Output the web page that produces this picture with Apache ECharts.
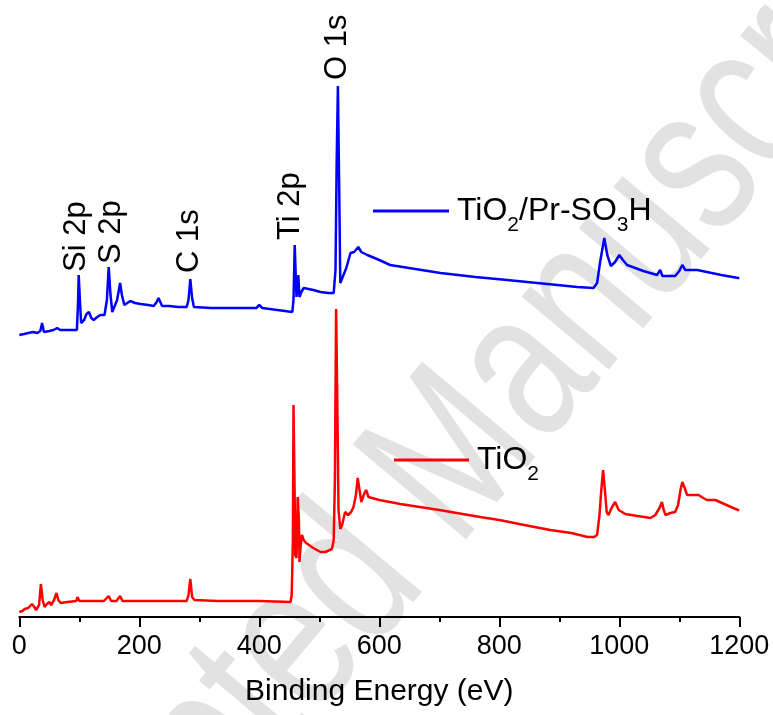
<!DOCTYPE html>
<html>
<head>
<meta charset="utf-8">
<script src="https://cdn.jsdelivr.net/npm/echarts@6/dist/echarts.min.js"></script>
<style>html,body{margin:0;padding:0;background:#fff}#c{width:773px;height:715px}</style>
</head>
<body>
<div id="c"></div>
<script>
// ---- data (binding energy in eV, intensity in arbitrary units) ----
var xTicks = [0, 200, 400, 600, 800, 1000, 1200];

var blueName = 'TiO2/Pr-SO3H';
var blueEnergy = [0,8,15,23,30,35,38,41,50,57,63,68,80,96,98,99,101,103,108,112,116,120,124,130,135,142,146,149,152,155,158,163,168,171,175,180,185,193,202,215,224,229,232,235,238,250,265,279,282,285,288,291,320,357,395,400,405,430,455,457,459,461,462,465,467,470,474,490,502,515,524,527,529,531,533,535,538,545,552,558,565,570,580,600,618,660,702,760,813,880,930,957,963,968,975,980,986,993,1000,1006,1013,1040,1063,1068,1072,1093,1100,1105,1110,1113,1130,1146,1170,1198,1200];
var blueCounts = [282,283,284,285,284,286,294,285,286,287,289,287,287,287,317,342,317,294,297,303,305,299,297,300,302,302,317,350,322,305,307,317,334,322,312,314,316,314,313,312,311,315,319,315,311,311,310,310,317,338,319,310,309,309,309,312,309,307,305,317,372,337,320,342,320,325,329,327,325,324,324,347,457,531,437,334,332,349,364,365,370,365,362,357,352,348,344,340,337,333,330,329,334,355,379,362,351,355,362,357,352,346,342,347,341,341,346,352,347,346,347,345,342,339,339];

var redName = 'TiO2';
var redEnergy = [0,5,9,15,21,25,28,33,36,39,42,46,50,53,58,62,65,69,80,95,97,100,120,141,149,153,162,168,172,200,228,231,234,260,279,282,285,288,292,330,357,400,452,454,456,457,459,460,462,464,466,467,469,471,474,478,490,502,510,521,524,526,528,530,532,535,538,543,548,553,557,561,564,567,570,574,578,582,585,600,635,700,768,800,850,885,920,947,958,963,967,970,973,976,979,982,987,993,999,1010,1030,1052,1060,1067,1071,1074,1077,1085,1093,1098,1102,1105,1109,1113,1120,1132,1140,1146,1160,1175,1190,1198,1200];
var redCounts = [5,6,8,9,13,10,7,12,33,17,10,13,15,12,17,24,17,14,15,16,20,16,16,16,21,16,16,21,16,16,16,18,16,16,16,22,38,20,17,16,16,16,15,22,77,212,117,62,59,120,97,55,72,82,77,74,69,65,65,68,77,137,308,217,107,88,92,105,102,105,110,122,139,127,115,122,127,120,119,117,113,107,100,97,91,87,84,80,80,82,102,127,147,127,105,102,109,115,107,103,101,99,102,109,115,107,102,104,105,112,127,135,129,122,122,122,119,117,117,113,109,107,107];

var peakLabels = ['Si 2p', 'S 2p', 'C 1s', 'Ti 2p', 'O 1s'];
var xTitle = 'Binding Energy (eV)';
var watermark = 'Accepted Manuscript';

// ---- build chart ----
function pairs(xs, ys) { return xs.map(function (x, i) { return [x, ys[i]]; }); }
var FONT = '"Liberation Sans", Arial, Helvetica, sans-serif';

var rich = {
  f: { fontSize: 32, fontFamily: FONT, color: '#000', lineHeight: 36, verticalAlign: 'middle', padding: [0, 0, 0, 3] },
  m: { fontSize: 32, fontFamily: FONT, color: '#000', lineHeight: 36, verticalAlign: 'middle' },
  s: { fontSize: 21, fontFamily: FONT, color: '#000', lineHeight: 21, verticalAlign: 'middle', padding: [29, 0, 0, 0] }
};
function legendText(name) {
  if (name === blueName) return '{f|TiO}{s|2}{m|/Pr-SO}{s|3}{m|H}';
  return '{f|TiO}{s|2}';
}

var labelPos = [[76, 272], [111, 264], [189, 273], [290, 240], [337, 80]];
var graphics = [{
  type: 'text', z: -10, x: 435, y: 484, rotation: 50 * Math.PI / 180, scaleX: 0.75, scaleY: 1,
  style: { text: watermark, fontSize: 215, fontFamily: FONT, fill: '#e2e2e2', align: 'center', verticalAlign: 'middle' }
}];
peakLabels.forEach(function (t, i) {
  graphics.push({
    type: 'text', z: 100, x: labelPos[i][0], y: labelPos[i][1], rotation: Math.PI / 2,
    style: { text: t, fontSize: 31, fontFamily: FONT, fill: '#000', align: 'left', verticalAlign: 'middle' }
  });
});

var chart = echarts.init(document.getElementById('c'), null, { renderer: 'canvas' });
chart.setOption({
  backgroundColor: '#fff',
  animation: false,
  grid: { left: 19.3, right: 33.7, top: 17, bottom: 98, containLabel: false },
  legend: [
    { data: [blueName], left: 373, top: 211 - 25, padding: 0, icon: 'rect', itemWidth: 76, itemHeight: 3,
      selectedMode: false, formatter: legendText, textStyle: { rich: rich } },
    { data: [redName], left: 394, top: 460 - 25, padding: 0, icon: 'rect', itemWidth: 75, itemHeight: 3,
      selectedMode: false, formatter: legendText, textStyle: { rich: rich } }
  ],
  xAxis: {
    type: 'value', min: xTicks[0], max: xTicks[xTicks.length - 1], interval: 200,
    name: xTitle, nameLocation: 'middle', nameGap: 60,
    nameTextStyle: { fontSize: 30, fontFamily: FONT, color: '#000' },
    axisLine: { show: true, onZero: false, lineStyle: { color: '#000', width: 2 } },
    axisTick: { show: true, inside: false, length: 10, lineStyle: { color: '#000', width: 2 } },
    minorTick: { show: true, splitNumber: 2, length: 5, lineStyle: { color: '#000', width: 2 } },
    axisLabel: { fontSize: 27, fontFamily: FONT, color: '#000', margin: 16,
      formatter: function (v) { return String(v); } },
    splitLine: { show: false }
  },
  yAxis: { type: 'value', min: 0, max: 600, show: false },
  series: [
    { name: blueName, type: 'line', data: pairs(blueEnergy, blueCounts), showSymbol: false, symbol: 'none',
      color: '#0000ff', lineStyle: { color: '#0000ff', width: 2.5 }, z: 3 },
    { name: redName, type: 'line', data: pairs(redEnergy, redCounts), showSymbol: false, symbol: 'none',
      color: '#ff0000', lineStyle: { color: '#ff0000', width: 2.5 }, z: 3 }
  ],
  graphic: graphics
});
</script>
</body>
</html>
